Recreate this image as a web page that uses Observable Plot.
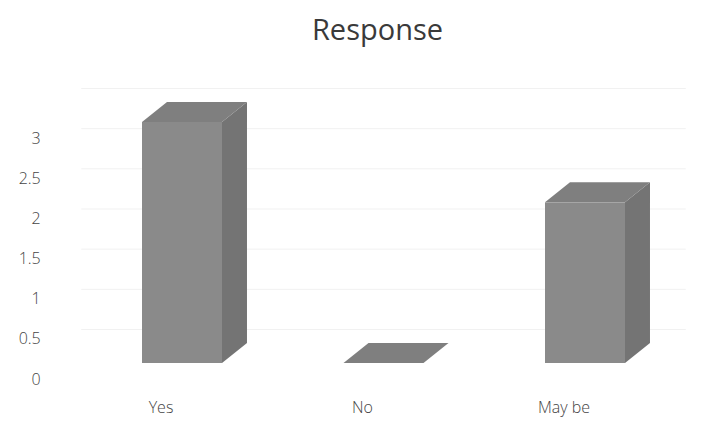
<!DOCTYPE html>
<html>
<head>
<meta charset="utf-8">
<script src="https://cdn.jsdelivr.net/npm/d3@7"></script>
<script src="https://cdn.jsdelivr.net/npm/@observablehq/plot@0.6"></script>
<style>
  html, body { margin: 0; padding: 0; background: #fff; }
  svg { display: block; }
</style>
</head>
<body>
<div id="chart"></div>
<script>
const title = "Response";
const categories = ["Yes", "No", "May be"];
const values = [3, 0, 2];
const yTicks = [0, 0.5, 1, 1.5, 2, 2.5, 3];

// geometry constants (data units) for the pseudo-3D boxes
const hw = 0.1985;   // half width of the front face
const dX = 0.124;    // depth along x
const dY = 0.249;    // depth along y

const idx = categories.map((c, i) => i);
const frontFaces = idx.map(i => ({c: categories[i], x1: i - hw, x2: i + hw, v: values[i]}));
const sideFaces = idx.flatMap(i => [
  {c: categories[i], x: i + hw, y1: 0, y2: values[i]},
  {c: categories[i], x: i + hw + dX, y1: dY, y2: values[i] + dY}
]);
const topFaces = idx.flatMap(i => [
  {c: categories[i], y: values[i], x1: i - hw, x2: i + hw},
  {c: categories[i], y: values[i] + dY, x1: i - hw + dX, x2: i + hw + dX}
]);

const chart = Plot.plot({
  width: 719,
  height: 423,
  marginLeft: 81.25,
  marginRight: 33.25,
  marginTop: 138,
  marginBottom: 44,
  style: {fontFamily: "'Open Sans', Lato, sans-serif", fontSize: "16px", color: "#595959", background: "#fff"},
  x: {domain: [-0.5, 2.5], label: null},
  y: {domain: [0, 3], label: null},
  marks: [
    Plot.ruleY(yTicks, {stroke: "#f1f1f1", strokeWidth: 1, dy: -50}),
    Plot.areaY(sideFaces, {x: "x", y1: "y1", y2: "y2", z: "c", fill: "#747474", dy: -16}),
    Plot.areaX(topFaces, {y: "y", x1: "x1", x2: "x2", z: "c", fill: "#7f7f7f", dy: -16}),
    Plot.rectY(frontFaces, {x1: "x1", x2: "x2", y1: 0, y2: "v", fill: "#8a8a8a", dy: -16}),
    Plot.axisY({ticks: yTicks, tickSize: 0, tickPadding: 41, tickFormat: d => String(d), fontSize: 16, fontWeight: 300, fill: "#444444", label: null}),
    Plot.axisX({ticks: idx, tickFormat: i => categories[i], tickSize: 0, tickPadding: 22, dx: -21.5, fontSize: 16, fontWeight: 300, fill: "#444444", label: null}),
    Plot.text([title], {frameAnchor: "top", dx: -6.5, dy: -119, fontSize: 29, fontWeight: 400, fill: "#3a3a3a"})
  ]
});
document.getElementById("chart").appendChild(chart);
</script>
</body>
</html>
